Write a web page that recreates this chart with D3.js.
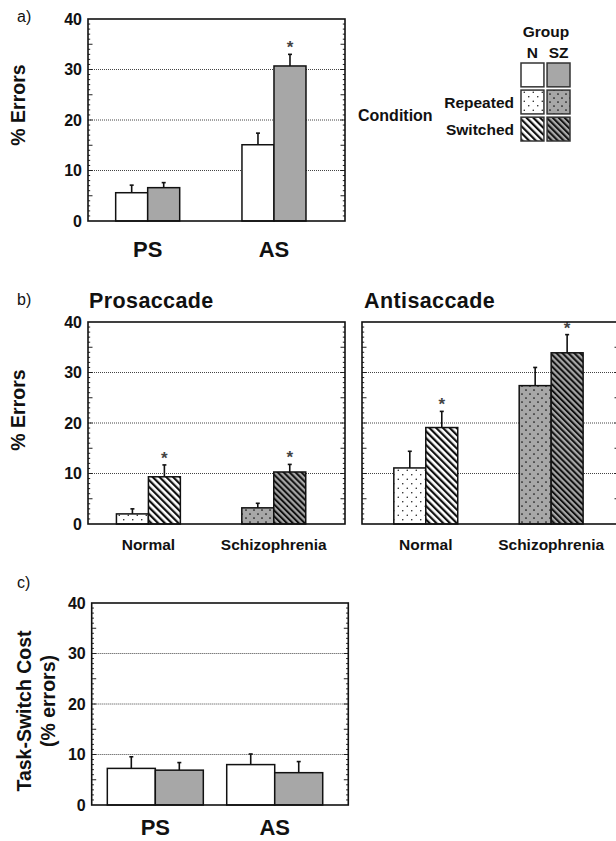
<!DOCTYPE html>
<html><head><meta charset="utf-8">
<script src="https://cdn.jsdelivr.net/npm/d3@7"></script>
<style>
html,body{margin:0;padding:0;background:#fff;}
svg text{font-family:"Liberation Sans",Arial,Helvetica,sans-serif;fill:#111;}
</style></head>
<body>
<svg id="chart" width="616" height="841"></svg>
<script>
// ---------- DATA ----------
const yTicks = [0, 10, 20, 30, 40];
const groupLabels = ["N", "SZ"];
const conditionLabels = ["Repeated", "Switched"];

// panel a
const aCategories = ["PS", "AS"];
const aMeanN = [5.6, 15.1];
const aErrN = [1.5, 2.3];
const aMeanSZ = [6.6, 30.7];
const aErrSZ = [1.0, 2.3];
const aSigSZ = [false, true];

// panel b
const bCategories = ["Normal", "Schizophrenia"];
const proRepeated = [2.0, 3.2];
const proRepeatedErr = [1.0, 0.9];
const proSwitched = [9.35, 10.3];
const proSwitchedErr = [2.35, 1.5];
const proSig = [true, true];
const antiRepeated = [11.1, 27.4];
const antiRepeatedErr = [3.3, 3.6];
const antiSwitched = [19.1, 33.9];
const antiSwitchedErr = [3.2, 3.6];
const antiSig = [true, true];

// panel c
const cCategories = ["PS", "AS"];
const cMeanN = [7.25, 8.0];
const cErrN = [2.3, 2.1];
const cMeanSZ = [6.9, 6.4];
const cErrSZ = [1.5, 2.2];

// ---------- SETUP ----------
const GRAY = "#a7a7a7";
const svg = d3.select("#chart");
svg.append("rect").attr("width", 616).attr("height", 841).attr("fill", "#fff");
const defs = svg.append("defs");

function dotPattern(id, bg, size, r) {
  const p = defs.append("pattern").attr("id", id).attr("patternUnits", "userSpaceOnUse")
    .attr("width", size).attr("height", size);
  p.append("rect").attr("width", size).attr("height", size).attr("fill", bg);
  p.append("circle").attr("cx", size * 0.25).attr("cy", size * 0.25).attr("r", r).attr("fill", "#111");
  p.append("circle").attr("cx", size * 0.75).attr("cy", size * 0.75).attr("r", r).attr("fill", "#111");
}
function stripePattern(id, bg, period, w) {
  const p = defs.append("pattern").attr("id", id).attr("patternUnits", "userSpaceOnUse")
    .attr("width", period).attr("height", period).attr("patternTransform", "rotate(-45)");
  p.append("rect").attr("width", period).attr("height", period).attr("fill", bg);
  p.append("rect").attr("width", w).attr("height", period).attr("fill", "#111");
}
dotPattern("dotsWhite", "#fff", 9, 0.75);
dotPattern("dotsGray", GRAY, 8, 0.85);
stripePattern("stripesWhite", "#fff", 4.8, 2.2);
stripePattern("stripesGray", GRAY, 4.2, 2.0);

const FILL = {
  plainN: "#fff", plainSZ: GRAY,
  repN: "url(#dotsWhite)", repSZ: "url(#dotsGray)",
  swN: "url(#stripesWhite)", swSZ: "url(#stripesGray)"
};

function panel(cfg) {
  const g = svg.append("g");
  const y = d3.scaleLinear().domain([0, 40]).range([cfg.y0, cfg.yTop]);
  const x = d3.scaleBand().domain(cfg.categories).range([cfg.x0, cfg.x1])
    .paddingInner(cfg.padIn).paddingOuter(cfg.padOut).align(cfg.align);
  const xs = d3.scaleBand().domain(d3.range(cfg.series.length)).range([0, x.bandwidth()]);

  // grid lines
  g.selectAll("line.grid").data(yTicks.filter(t => t > 0 && t < 40)).join("line")
    .attr("x1", cfg.x0).attr("x2", cfg.x1)
    .attr("y1", d => y(d)).attr("y2", d => y(d))
    .attr("stroke", "#444").attr("stroke-width", 1).attr("stroke-dasharray", "1,1");

  // minor/major ticks on left and right, inward
  const minor = d3.range(1, 40);
  const tickLen = d => (d % 5 === 0 ? 4.5 : 2.2);
  g.selectAll("line.tl").data(minor).join("line")
    .attr("x1", cfg.x0).attr("x2", d => cfg.x0 + tickLen(d))
    .attr("y1", d => y(d)).attr("y2", d => y(d))
    .attr("stroke", "#222").attr("stroke-width", 1);
  g.selectAll("line.tr").data(minor).join("line")
    .attr("x1", cfg.x1).attr("x2", d => cfg.x1 - tickLen(d))
    .attr("y1", d => y(d)).attr("y2", d => y(d))
    .attr("stroke", "#222").attr("stroke-width", 1);

  // bars
  cfg.series.forEach((s, si) => {
    const data = cfg.categories.map((c, i) => ({ c, i, v: s.values[i], e: s.errs[i], sig: s.sig ? s.sig[i] : false, fill: s.fills[i] }));
    const bx = d => x(d.c) + xs(si);
    const bw = xs.bandwidth();
    g.selectAll(null).data(data).join("line")
      .attr("x1", d => bx(d) + bw / 2).attr("x2", d => bx(d) + bw / 2)
      .attr("y1", d => y(d.v)).attr("y2", d => y(d.v + d.e))
      .attr("stroke", "#111").attr("stroke-width", 1.6);
    g.selectAll(null).data(data).join("line")
      .attr("x1", d => bx(d) + bw / 2 - 2).attr("x2", d => bx(d) + bw / 2 + 2)
      .attr("y1", d => y(d.v + d.e)).attr("y2", d => y(d.v + d.e))
      .attr("stroke", "#111").attr("stroke-width", 1.6);
    g.selectAll(null).data(data).join("rect")
      .attr("x", d => bx(d)).attr("width", bw)
      .attr("y", d => y(d.v)).attr("height", d => y(0) - y(d.v))
      .attr("fill", d => d.fill).attr("stroke", "#111").attr("stroke-width", 1.5);
    g.selectAll(null).data(data.filter(d => d.sig)).join("text")
      .attr("x", d => bx(d) + bw / 2).attr("y", d => y(d.v + d.e) - 1)
      .attr("text-anchor", "middle").attr("font-size", 17).attr("font-weight", "bold")
      .style("fill", "#444").text("*");
  });

  // frame
  g.append("rect").attr("x", cfg.x0).attr("y", cfg.yTop)
    .attr("width", cfg.x1 - cfg.x0).attr("height", cfg.y0 - cfg.yTop)
    .attr("fill", "none").attr("stroke", "#111").attr("stroke-width", 1.6);

  // y tick labels
  if (cfg.tickLabels) {
    g.selectAll("text.yt").data(yTicks).join("text")
      .attr("x", cfg.x0 - 6).attr("y", d => y(d)).attr("dy", "0.36em")
      .attr("text-anchor", "end").attr("font-size", 16).attr("font-weight", "bold")
      .text(d => d);
  }
  // category labels
  g.selectAll("text.cat").data(cfg.categories).join("text")
    .attr("x", d => x(d) + x.bandwidth() / 2).attr("y", cfg.catY)
    .attr("text-anchor", "middle").attr("font-size", cfg.catSize).attr("font-weight", "bold")
    .text(d => d);
  return { x, y };
}

// ---------- PANEL a ----------
panel({
  x0: 88, x1: 345, yTop: 19, y0: 221, categories: aCategories,
  padIn: 0.493, padOut: 0.264, align: 0.415,
  series: [
    { values: aMeanN, errs: aErrN, fills: aCategories.map(() => FILL.plainN) },
    { values: aMeanSZ, errs: aErrSZ, sig: aSigSZ, fills: aCategories.map(() => FILL.plainSZ) }
  ],
  tickLabels: true, catY: 257, catSize: 22
});

// ---------- PANEL b ----------
const bRepFills = [FILL.repN, FILL.repSZ];
const bSwFills = [FILL.swN, FILL.swSZ];
panel({
  x0: 88, x1: 345, yTop: 322, y0: 524, categories: bCategories,
  padIn: 0.49, padOut: 0.27, align: 0.42,
  series: [
    { values: proRepeated, errs: proRepeatedErr, fills: bRepFills },
    { values: proSwitched, errs: proSwitchedErr, sig: proSig, fills: bSwFills }
  ],
  tickLabels: true, catY: 550, catSize: 15.5
});
panel({
  x0: 362, x1: 619, yTop: 322, y0: 524, categories: bCategories,
  padIn: 0.49, padOut: 0.27, align: 0.47,
  series: [
    { values: antiRepeated, errs: antiRepeatedErr, fills: bRepFills },
    { values: antiSwitched, errs: antiSwitchedErr, sig: antiSig, fills: bSwFills }
  ],
  tickLabels: false, catY: 550, catSize: 15.5
});

// ---------- PANEL c ----------
panel({
  x0: 91.7, x1: 348.3, yTop: 603, y0: 805, categories: cCategories,
  padIn: 0.196, padOut: 0.1725, align: 0.379,
  series: [
    { values: cMeanN, errs: cErrN, fills: cCategories.map(() => FILL.plainN) },
    { values: cMeanSZ, errs: cErrSZ, fills: cCategories.map(() => FILL.plainSZ) }
  ],
  tickLabels: true, catY: 835, catSize: 22
});

// ---------- TEXT LABELS ----------
function txt(x, y, s, size, weight, anchor, rot) {
  const t = svg.append("text").attr("font-size", size).attr("font-weight", weight || "normal")
    .attr("text-anchor", anchor || "start").text(s);
  if (rot) t.attr("transform", `translate(${x},${y}) rotate(${rot})`);
  else t.attr("x", x).attr("y", y);
  return t;
}
txt(17, 22, "a)", 16);
txt(17, 305, "b)", 16);
txt(17, 588, "c)", 16);
txt(25, 105, "% Errors", 19.5, "bold", "middle", -90);
txt(25, 410, "% Errors", 19.5, "bold", "middle", -90);
txt(31, 711, "Task-Switch Cost", 19.5, "bold", "middle", -90);
txt(55, 701, "(% errors)", 19.5, "bold", "middle", -90);
txt(89, 308, "Prosaccade", 21.5, "bold", "start").attr("letter-spacing", 0.4);
txt(364, 308, "Antisaccade", 21.5, "bold", "start").attr("letter-spacing", 0.4);

// ---------- LEGEND ----------
const legX = d3.scaleBand().domain(groupLabels).range([521, 570]).paddingInner(0.12);
const legRows = ["plain", "Repeated", "Switched"];
const legY = d3.scaleBand().domain(legRows).range([63, 141]).paddingInner(0.12);
txt(546, 37, "Group", 15.5, "bold", "middle");
svg.selectAll("text.lg").data(groupLabels).join("text")
  .attr("x", d => legX(d) + legX.bandwidth() / 2).attr("y", 58)
  .attr("text-anchor", "middle").attr("font-size", 15.5).attr("font-weight", "bold").text(d => d);
svg.selectAll("text.lc").data(conditionLabels).join("text")
  .attr("x", 514).attr("y", d => legY(d) + legY.bandwidth() / 2).attr("dy", "0.36em")
  .attr("text-anchor", "end").attr("font-size", 15.5).attr("font-weight", "bold").text(d => d);
txt(358, 121, "Condition", 16, "bold", "start");
const legFills = {
  plain: [FILL.plainN, FILL.plainSZ],
  Repeated: [FILL.repN, FILL.repSZ],
  Switched: [FILL.swN, FILL.swSZ]
};
legRows.forEach(r => {
  svg.selectAll(null).data(groupLabels).join("rect")
    .attr("x", d => legX(d)).attr("y", legY(r))
    .attr("width", legX.bandwidth()).attr("height", legY.bandwidth())
    .attr("fill", (d, i) => legFills[r][i]).attr("stroke", "#333").attr("stroke-width", 1.5);
});
</script>
</body></html>
